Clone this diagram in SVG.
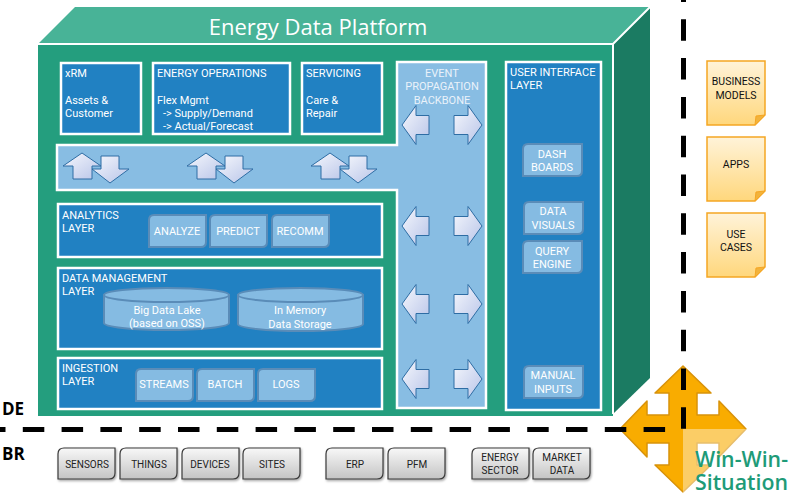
<svg xmlns="http://www.w3.org/2000/svg" width="794" height="504" viewBox="0 0 794 504">
<style>
text{font-family:Roboto,"Open Sans","Liberation Sans",sans-serif;}
.lay{fill:#2181C2;stroke:#fff;stroke-width:2.5;}
.lt{fill:#fff;font-size:11px;}
.sub{fill:#85BBE2;stroke:#5A8CB8;stroke-width:2;}
.st{fill:#fff;font-size:11px;text-anchor:middle;}
.bb{fill:#EAF2FA;font-size:11px;text-anchor:middle;}
.gbx{fill:url(#gg);stroke:#3a3a3a;stroke-width:1.2;filter:url(#sh);}
.gt{fill:#222;font-size:10px;text-anchor:middle;}
.note{fill:url(#og);stroke:#F5A623;stroke-width:1.5;}
.nt{fill:#111;font-size:10.5px;text-anchor:middle;}
.arr{fill:url(#ag);stroke:#2E6DA4;stroke-width:1;}
.dash{stroke:#000;stroke-width:5;fill:none;}
.lbl{fill:#000;font-size:17px;font-weight:700;font-family:"Open Sans","Liberation Sans",sans-serif;}
.big{font-family:"Open Sans","Noto Sans","Liberation Sans",sans-serif;}
</style>
<defs>
<linearGradient id="ag" x1="0" y1="0" x2="1" y2="1"><stop offset="0" stop-color="#F6F8FD"/><stop offset="1" stop-color="#B8C4E8"/></linearGradient>
<linearGradient id="gg" x1="0" y1="0" x2="0" y2="1"><stop offset="0" stop-color="#F8F8F8"/><stop offset="1" stop-color="#C4C4C4"/></linearGradient>
<linearGradient id="og" x1="0" y1="0" x2="0" y2="1"><stop offset="0" stop-color="#FFF3D9"/><stop offset="1" stop-color="#FFD77C"/></linearGradient>
<filter id="sh" x="-20%" y="-20%" width="140%" height="150%"><feDropShadow dx="1" dy="1.5" stdDeviation="1" flood-color="#000" flood-opacity="0.35"/></filter>
<path id="sb" d="M5,0 H57 V27 Q57,32 52,32 H0 V5 Q0,0 5,0 Z"/>
<path id="ub" d="M5,0 H59 V27 Q59,32 54,32 H0 V5 Q0,0 5,0 Z"/>
<path id="gb" d="M6,0 H57 V25 Q57,31 51,31 H0 V6 Q0,0 6,0 Z"/>
<g id="ud">
<path class="arr" d="M38,3 H56 V16 H66 L47,30 L29,16 H38 Z"/>
<path class="arr" d="M19,0 L38,13 H29 V26 H10 V13 H0 Z"/>
</g>
<g id="lr">
<path class="arr" d="M402,0 L416,-19.5 V-9.5 H429 V9.5 H416 V19.5 Z"/>
<path class="arr" d="M482,0 L468,-19.5 V-9.5 H454 V9.5 H468 V19.5 Z"/>
</g>
</defs>
<rect width="794" height="504" fill="#fff"/>

<g id="platform">
<polygon points="38,44 75,7 650,7 613,44" fill="#48B397"/>
<polygon points="613,44 650,7 650,378 613,414" fill="#1B7B62"/>
<rect x="38" y="44" width="575" height="372" fill="#249E7E"/>
<path d="M38,44 H613 L650,7 M613,44 V414" stroke="#fff" stroke-width="2" fill="none"/>
<text class="big" x="318" y="35" fill="#fff" font-size="22" text-anchor="middle">Energy Data Platform</text>
</g>

<g id="xrm">
<rect class="lay" x="61" y="63" width="80" height="71"/>
<text class="lt" x="65" y="77">xRM</text>
<text class="lt" x="65" y="104">Assets &amp;</text>
<text class="lt" x="65" y="117">Customer</text>
</g>
<g id="energy-operations">
<rect class="lay" x="153" y="63" width="137" height="71"/>
<text class="lt" x="157" y="77">ENERGY OPERATIONS</text>
<text class="lt" x="157" y="104">Flex Mgmt</text>
<text class="lt" x="163" y="117">-&gt; Supply/Demand</text>
<text class="lt" x="163" y="130">-&gt; Actual/Forecast</text>
</g>
<g id="servicing">
<rect class="lay" x="302" y="63" width="80" height="71"/>
<text class="lt" x="306" y="77">SERVICING</text>
<text class="lt" x="306" y="104">Care &amp;</text>
<text class="lt" x="306" y="117">Repair</text>
</g>

<g id="backbone">
<polygon points="397,62 486,62 486,408 397,408 397,190 57,190 57,145 397,145" fill="#88BDE3" stroke="#fff" stroke-width="2.5"/>
<text class="bb" x="442" y="77">EVENT</text>
<text class="bb" x="442" y="90">PROPAGATION</text>
<text class="bb" x="442" y="104">BACKBONE</text>
<use href="#ud" x="63" y="153"/>
<use href="#ud" x="187" y="153"/>
<use href="#ud" x="311" y="153"/>
<use href="#lr" x="0" y="125"/>
<use href="#lr" x="0" y="226"/>
<use href="#lr" x="0" y="304"/>
<use href="#lr" x="0" y="379"/>
</g>

<g id="ui-layer">
<rect class="lay" x="506" y="62" width="95" height="348"/>
<text class="lt" x="510" y="76">USER INTERFACE</text>
<text class="lt" x="510" y="89">LAYER</text>
<use href="#ub" class="sub" x="523" y="144"/>
<text class="st" x="552" y="158">DASH</text><text class="st" x="552" y="171">BOARDS</text>
<use href="#ub" class="sub" x="524" y="202"/>
<text class="st" x="553" y="215">DATA</text><text class="st" x="553" y="229">VISUALS</text>
<use href="#ub" class="sub" x="523" y="241"/>
<text class="st" x="552" y="255">QUERY</text><text class="st" x="552" y="268">ENGINE</text>
<use href="#ub" class="sub" x="524" y="366"/>
<text class="st" x="553" y="379">MANUAL</text><text class="st" x="553" y="393">INPUTS</text>
</g>

<g id="analytics-layer">
<rect class="lay" x="58" y="204" width="324" height="53"/>
<text class="lt" x="62" y="219">ANALYTICS</text>
<text class="lt" x="62" y="232">LAYER</text>
<use href="#sb" class="sub" x="149" y="215"/><text class="st" x="177" y="235">ANALYZE</text>
<use href="#sb" class="sub" x="210" y="215"/><text class="st" x="238" y="235">PREDICT</text>
<use href="#sb" class="sub" x="272" y="215"/><text class="st" x="300" y="235">RECOMM</text>
</g>

<g id="data-management-layer">
<rect class="lay" x="58" y="268" width="324" height="81"/>
<text class="lt" x="62" y="282">DATA MANAGEMENT</text>
<text class="lt" x="62" y="295">LAYER</text>
<path class="sub" d="M104,295 V323 A62.5,7 0 0 0 229,323 V295 Z"/>
<ellipse class="sub" cx="166.5" cy="295" rx="62.5" ry="7"/>
<text class="st" x="167" y="314">Big Data Lake</text>
<text class="st" x="167" y="327">(based on OSS)</text>
<path class="sub" d="M238,295 V324 A62.5,7 0 0 0 363,324 V295 Z"/>
<ellipse class="sub" cx="300.5" cy="295" rx="62.5" ry="7"/>
<text class="st" x="300" y="314">In Memory</text>
<text class="st" x="300" y="328">Data Storage</text>
</g>

<g id="ingestion-layer">
<rect class="lay" x="58" y="358" width="324" height="51"/>
<text class="lt" x="62" y="372">INGESTION</text>
<text class="lt" x="62" y="385">LAYER</text>
<use href="#sb" class="sub" x="136" y="369"/><text class="st" x="164" y="388">STREAMS</text>
<use href="#sb" class="sub" x="197" y="369"/><text class="st" x="225" y="388">BATCH</text>
<use href="#sb" class="sub" x="258" y="369"/><text class="st" x="286" y="388">LOGS</text>
</g>

<g id="sources">
<use href="#gb" class="gbx" x="58" y="448"/><text class="gt" x="87" y="468">SENSORS</text>
<use href="#gb" class="gbx" x="120" y="448"/><text class="gt" x="149" y="468">THINGS</text>
<use href="#gb" class="gbx" x="182" y="448"/><text class="gt" x="210" y="468">DEVICES</text>
<use href="#gb" class="gbx" x="243" y="448"/><text class="gt" x="272" y="468">SITES</text>
<use href="#gb" class="gbx" x="326" y="448"/><text class="gt" x="355" y="468">ERP</text>
<use href="#gb" class="gbx" x="388" y="448"/><text class="gt" x="417" y="468">PFM</text>
<use href="#gb" class="gbx" x="472" y="448"/><text class="gt" x="500" y="461">ENERGY</text><text class="gt" x="500" y="474">SECTOR</text>
<use href="#gb" class="gbx" x="533" y="448"/><text class="gt" x="562" y="461">MARKET</text><text class="gt" x="562" y="474">DATA</text>
</g>

<g id="notes">
<g id="business-models">
<path class="note" d="M707,61 H765 V115 L755,125 H707 Z"/>
<path d="M765,115 L756,116 L755,125 Z" fill="#F2B33C" stroke="#F5A623" stroke-width="1"/>
<text class="nt" x="736" y="85">BUSINESS</text><text class="nt" x="736" y="99">MODELS</text>
</g>
<g id="apps">
<path class="note" d="M707,137 H765 V191 L755,201 H707 Z"/>
<path d="M765,191 L756,192 L755,201 Z" fill="#F2B33C" stroke="#F5A623" stroke-width="1"/>
<text class="nt" x="736" y="168">APPS</text>
</g>
<g id="use-cases">
<path class="note" d="M707,213 H765 V267 L755,277 H707 Z"/>
<path d="M765,267 L756,268 L755,277 Z" fill="#F2B33C" stroke="#F5A623" stroke-width="1"/>
<text class="nt" x="736" y="238">USE</text><text class="nt" x="736" y="251">CASES</text>
</g>
</g>

<g id="win-win">
<polygon points="683,366 711,393 697,393 697,415 719,415 719,401 746,429 719,457 719,443 697,443 697,465 711,465 683,492 655,465 669,465 669,443 647,443 647,457 620,429 647,401 647,415 669,415 669,393 655,393" fill="#F9AC00" stroke="#D8920A" stroke-width="1.5" stroke-linejoin="round"/>
<rect x="683" y="429" width="111" height="75" fill="#fff" fill-opacity="0.4"/>
</g>

<g id="connectors">
<line class="dash" x1="683.5" y1="-19.5" x2="683.5" y2="429" stroke-dasharray="21.5 17.3"/>
<line class="dash" x1="-16" y1="429.5" x2="682" y2="429.5" stroke-dasharray="21.5 17.3"/>
</g>

<text class="lbl" x="2" y="415">DE</text>
<text class="lbl" x="2" y="460">BR</text>
<text class="big" x="695" y="467" fill="#1E9B78" font-size="22" font-weight="600" textLength="93" lengthAdjust="spacingAndGlyphs">Win-Win-</text>
<text class="big" x="695" y="490" fill="#1E9B78" font-size="22" font-weight="600" textLength="93" lengthAdjust="spacingAndGlyphs">Situation</text>
</svg>
